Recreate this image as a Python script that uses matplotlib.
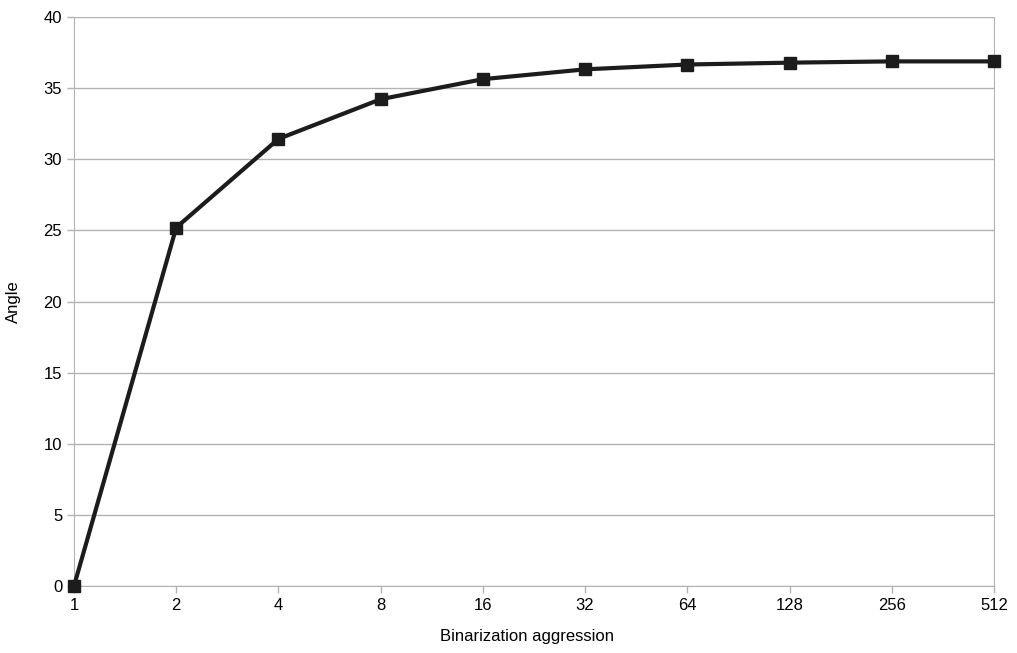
import matplotlib
matplotlib.use("Agg")
import matplotlib.pyplot as plt

aggression = ["1", "2", "4", "8", "16", "32", "64", "128", "256", "512"]
angle = [0.0, 25.2, 31.43, 34.22, 35.63, 36.32, 36.66, 36.79, 36.88, 36.88]
y_ticks = [0, 5, 10, 15, 20, 25, 30, 35, 40]

plt.rcParams["font.family"] = ["Liberation Sans", "DejaVu Sans"]

fig = plt.figure(figsize=(10.17, 6.53), dpi=100)
ax = fig.add_axes([74 / 1017, 67 / 653, 920 / 1017, 569 / 653])

x = list(range(len(aggression)))
ax.plot(x, angle, color="#1c1c1c", linewidth=3, marker="s", markersize=8,
        markerfacecolor="#1c1c1c", markeredgecolor="#1c1c1c", clip_on=False, zorder=3)

ax.set_xlim(0, len(aggression) - 1)
ax.set_ylim(0, 40)
ax.set_xticks(x)
ax.set_xticklabels(aggression)
ax.set_yticks(y_ticks)
ax.yaxis.grid(True, color="#b3b3b3", linewidth=1)
ax.set_axisbelow(True)

for side in ["left", "bottom", "right"]:
    ax.spines[side].set_color("#b3b3b3")
ax.spines["top"].set_visible(False)
ax.tick_params(axis="both", colors="#b3b3b3", labelcolor="black", labelsize=12, length=5, width=1)
ax.tick_params(axis="x", pad=4)

ax.set_xlabel("Binarization aggression", fontsize=12)
ax.xaxis.set_label_coords(0.492, -0.076)
ax.set_ylabel("Angle", fontsize=12, labelpad=16)

fig.savefig("out.png", dpi=100)
